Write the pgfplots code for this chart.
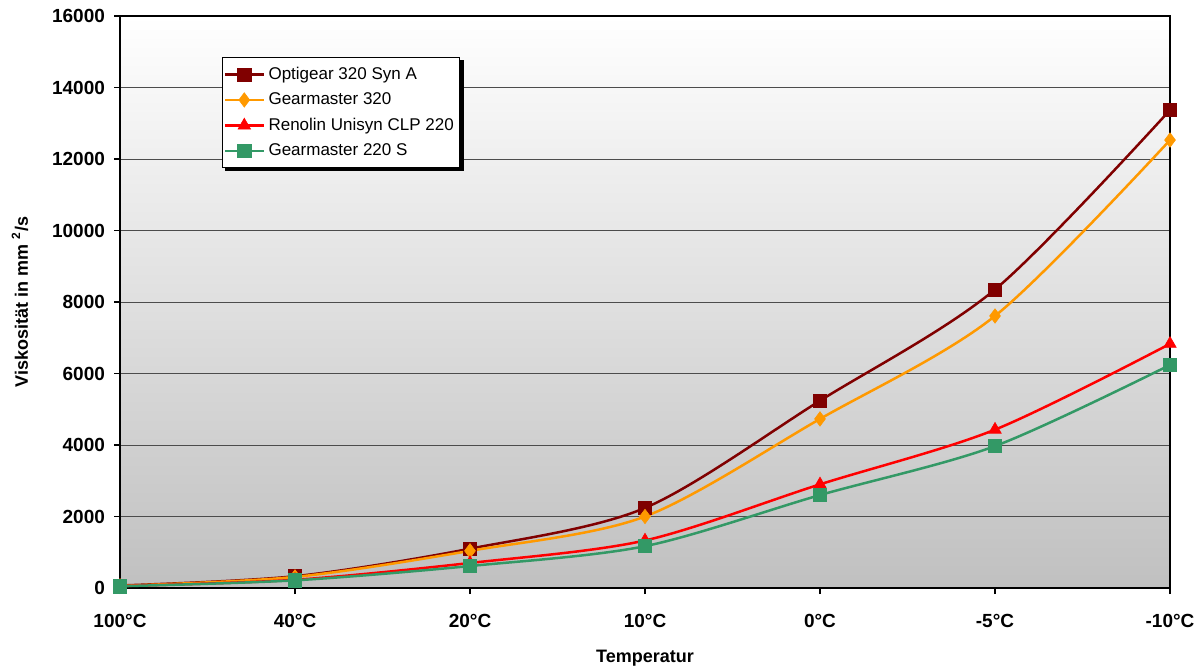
\documentclass[border=0pt]{standalone}
\usepackage{fontspec}
\setmainfont{Liberation Sans}
\usepackage{pgfplots}
\pgfplotsset{compat=1.18}
\definecolor{cOpti}{HTML}{800000}
\definecolor{cGM}{HTML}{FF9900}
\definecolor{cRen}{HTML}{FF0000}
\definecolor{cGS}{HTML}{339966}
\definecolor{bgbot}{HTML}{C0C0C0}
\begin{document}
\begin{tikzpicture}
\begin{axis}[
  set layers,
  scale only axis, width=525pt, height=286pt,
  at={(0,0)}, anchor=south west,
  xmin=0, xmax=6, ymin=0, ymax=16000,
  xtick={0,1,2,3,4,5,6},
  xticklabels={100°C,40°C,20°C,10°C,0°C,-5°C,-10°C},
  ytick={0,2000,4000,6000,8000,10000,12000,14000,16000},
  scaled y ticks=false,
  /pgf/number format/1000 sep={},
  /pgf/number format/assume math mode=true,
  ticklabel style={font=\bfseries\fontsize{9.5}{11}\selectfont},
  xticklabel style={yshift=-6.5pt},
  yticklabel style={xshift=-1pt},
  tick pos=left, tick align=outside,
  major tick length=3pt,
  tick style={black, line width=0.6pt},
  axis line style={black, line width=1.1pt},
  ymajorgrids, major grid style={black!70, line width=0.5pt},
  axis background/.style={top color=white, bottom color=bgbot},
  xlabel={Temperatur},
  ylabel={Viskosität in mm \textsuperscript{2}/s},
  label style={font=\bfseries\fontsize{9}{11}\selectfont},
  xlabel style={at={(axis description cs:0.5,-0.122)}, anchor=center},
  ylabel style={at={(axis description cs:-0.0952,0.5)}, anchor=center},
  extra description/.code={
    \begin{pgfonlayer}{pre main}
    \fill[black] (axis description cs:0.1002,0.9227) rectangle (axis description cs:0.3276,0.7285);
    \end{pgfonlayer}
  },
  legend cell align=left,
  legend style={at={(rel axis cs:0.097,0.928)}, anchor=north west,
    font=\fontsize{8.5}{10}\selectfont, draw=black, line width=0.6pt,
    fill=white, inner xsep=0.8pt, inner ysep=2.5pt, row sep=1.2pt,
    /tikz/every even column/.append style={column sep=2pt}},
  legend image code/.code={\draw[mark repeat=2,mark phase=2,#1,line width=1.25pt] plot coordinates {(0pt,0pt) (9.5pt,0pt) (19pt,0pt)};},
  every axis plot/.append style={line width=1.25pt, smooth, tension=0.5},
]
\addplot[color=cOpti, mark=square*, mark size=3.3pt, mark options={solid, fill=cOpti, draw=cOpti, line width=0.3pt}]
  coordinates {(0,70) (1,330) (2,1100) (3,2240) (4,5240) (5,8350) (6,13370)};
\addlegendentry{Optigear 320 Syn A}
\addplot[color=cGM, mark=diamond*, mark size=3.6pt, mark options={solid, fill=cGM, draw=cGM, line width=0.3pt}]
  coordinates {(0,60) (1,310) (2,1040) (3,2000) (4,4730) (5,7610) (6,12530)};
\addlegendentry{Gearmaster 320}
\addplot[color=cRen, mark=triangle*, mark size=3.6pt, mark options={solid, fill=cRen, draw=cRen, line width=0.3pt}]
  coordinates {(0,55) (1,230) (2,700) (3,1330) (4,2900) (5,4430) (6,6830)};
\addlegendentry{Renolin Unisyn CLP 220}
\addplot[color=cGS, mark=square*, mark size=3.3pt, mark options={solid, fill=cGS, draw=cGS, line width=0.3pt}]
  coordinates {(0,50) (1,215) (2,615) (3,1170) (4,2600) (5,3970) (6,6240)};
\addlegendentry{Gearmaster 220 S}
\end{axis}
\pgfresetboundingbox
\path (-60pt,-39pt) rectangle (541.5pt,294pt);
\end{tikzpicture}
\end{document}
